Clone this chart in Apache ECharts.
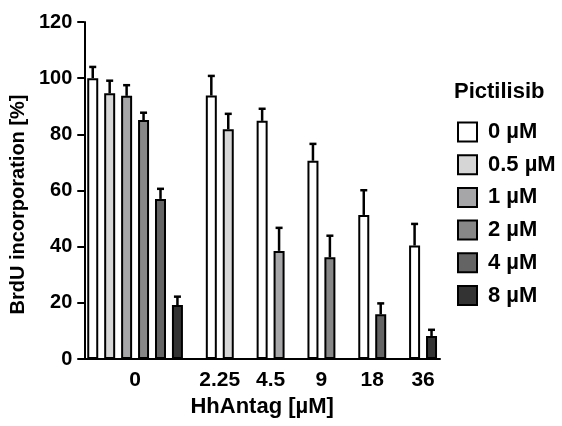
<!DOCTYPE html>
<html>
<head>
<meta charset="utf-8">
<style>
  html, body { margin: 0; padding: 0; background: #fff; }
  #chart { width: 562px; height: 426px; }
</style>
<script src="https://cdn.jsdelivr.net/npm/echarts@6/dist/echarts.min.js"></script>
</head>
<body>
<div id="chart"></div>
<script>
// ---- Data ----
const hhantagDoses = ['0', '2.25', '4.5', '9', '18', '36']
const pictilisibDoses = ['0 µM', '0.5 µM', '1 µM', '2 µM', '4 µM', '8 µM']

// mean BrdU incorporation [%] per Pictilisib dose, one value per HhAntag dose (null = not measured)
const mean0 = [100, 93.8, 84.8, 70.6, 51.3, 40.4]
const mean05 = [94.6, 81.8, null, null, null, null]
const mean1 = [93.7, null, 38.5, null, null, null]
const mean2 = [85.1, null, null, 36.2, null, null]
const mean4 = [57.0, null, null, null, 15.9, null]
const mean8 = [19.2, null, null, null, null, 8.2]

// upper error (SD)
const err0 = [4.0, 7.0, 4.3, 6.0, 8.8, 7.7]
const err05 = [4.5, 5.5, null, null, null, null]
const err1 = [3.8, null, 8.2, null, null, null]
const err2 = [2.6, null, null, 7.7, null, null]
const err4 = [3.6, null, null, null, 3.9, null]
const err8 = [3.0, null, null, null, null, 2.2]

const means = [mean0, mean05, mean1, mean2, mean4, mean8]
const errs = [err0, err05, err1, err2, err4, err8]

const FILLS = ['#ffffff', '#d6d6d6', '#a6a6a9', '#878787', '#646464', '#333333']
const FONT = "'Liberation Sans', Arial, Helvetica, sans-serif"

// ---- Slot layout: bars side by side within a group, one empty slot between groups ----
const barSlots = means.map(() => [])
const errPoints = []
const groupCenters = {}
let slot = 0
hhantagDoses.forEach((dose, g) => {
  const first = slot
  means.forEach((arr, s) => {
    if (arr[g] != null) {
      barSlots[s].push([slot, arr[g]])
      errPoints.push([slot, arr[g], arr[g] + errs[s][g]])
      slot++
    }
  })
  groupCenters[((first + slot - 1) / 2).toFixed(1)] = dose
  slot++
})
const lastSlot = slot - 2

const series = []
pictilisibDoses.forEach((name, s) => {
  series.push({
    name,
    type: 'bar',
    data: barSlots[s],
    barWidth: 11,
    barGap: '-100%',
    itemStyle: { color: FILLS[s], borderColor: '#000', borderWidth: 2 },
    z: 2,
  })
})
series.push({
  name: 'err',
  type: 'custom',
  data: errPoints,
  encode: { x: 0, y: [1, 2] },
  z: 3,
  renderItem(params, api) {
    const base = api.coord([api.value(0), api.value(1)])
    const top = api.coord([api.value(0), api.value(2)])
    return {
      type: 'group',
      children: [
        {
          type: 'line',
          shape: { x1: base[0], y1: base[1], x2: top[0], y2: top[1] },
          style: { stroke: '#000', lineWidth: 2.5 },
        },
        {
          type: 'line',
          shape: { x1: top[0] - 3.5, y1: top[1], x2: top[0] + 3.5, y2: top[1] },
          style: { stroke: '#000', lineWidth: 2.5 },
        },
      ],
    }
  },
})

const chart = echarts.init(document.getElementById('chart'), null, { renderer: 'canvas' })
chart.setOption({
  animation: false,
  backgroundColor: '#fff',
  textStyle: { fontFamily: FONT },
  title: {
    text: 'Pictilisib',
    left: 454,
    top: 81,
    padding: 0,
    textStyle: { fontFamily: FONT, fontWeight: 'bold', fontSize: 22, color: '#000' },
  },
  legend: {
    data: pictilisibDoses,
    orient: 'vertical',
    left: 457,
    top: 121,
    padding: 0,
    itemWidth: 19,
    itemHeight: 19,
    itemGap: 10.7,
    icon: 'rect',
    itemStyle: { borderColor: '#000', borderWidth: 2 },
    textStyle: {
      fontFamily: FONT, fontWeight: 'bold', fontSize: 22,
      color: '#000', padding: [0, 0, 0, 6],
    },
  },
  grid: { left: 84, right: 122, top: 22, bottom: 67 },
  xAxis: {
    type: 'value',
    min: -0.5,
    max: lastSlot + 0.5,
    interval: 0.5,
    name: 'HhAntag [µM]',
    nameLocation: 'middle',
    nameGap: 35,
    nameTextStyle: { fontFamily: FONT, fontWeight: 'bold', fontSize: 22, color: '#000' },
    axisLine: { show: true, onZero: false, lineStyle: { color: '#000', width: 2 } },
    axisTick: { show: false },
    splitLine: { show: false },
    axisLabel: {
      margin: 11,
      fontFamily: FONT,
      fontWeight: 'bold',
      fontSize: 21,
      color: '#000',
      formatter: (v) => groupCenters[v.toFixed(1)] || '',
    },
  },
  yAxis: {
    type: 'value',
    min: 0,
    max: 120,
    interval: 20,
    name: 'BrdU incorporation [%]',
    nameLocation: 'middle',
    nameGap: 56,
    nameTextStyle: {
      fontFamily: FONT, fontWeight: 'bold', fontSize: 20, color: '#000',
      padding: [0, 28, 0, 0],
    },
    axisLine: { show: true, onZero: false, lineStyle: { color: '#000', width: 2 } },
    axisTick: { show: true, length: 7, lineStyle: { color: '#000', width: 2 } },
    splitLine: { show: false },
    axisLabel: { margin: 12, fontFamily: FONT, fontWeight: 'bold', fontSize: 20, color: '#000' },
  },
  series,
})
</script>
</body>
</html>
